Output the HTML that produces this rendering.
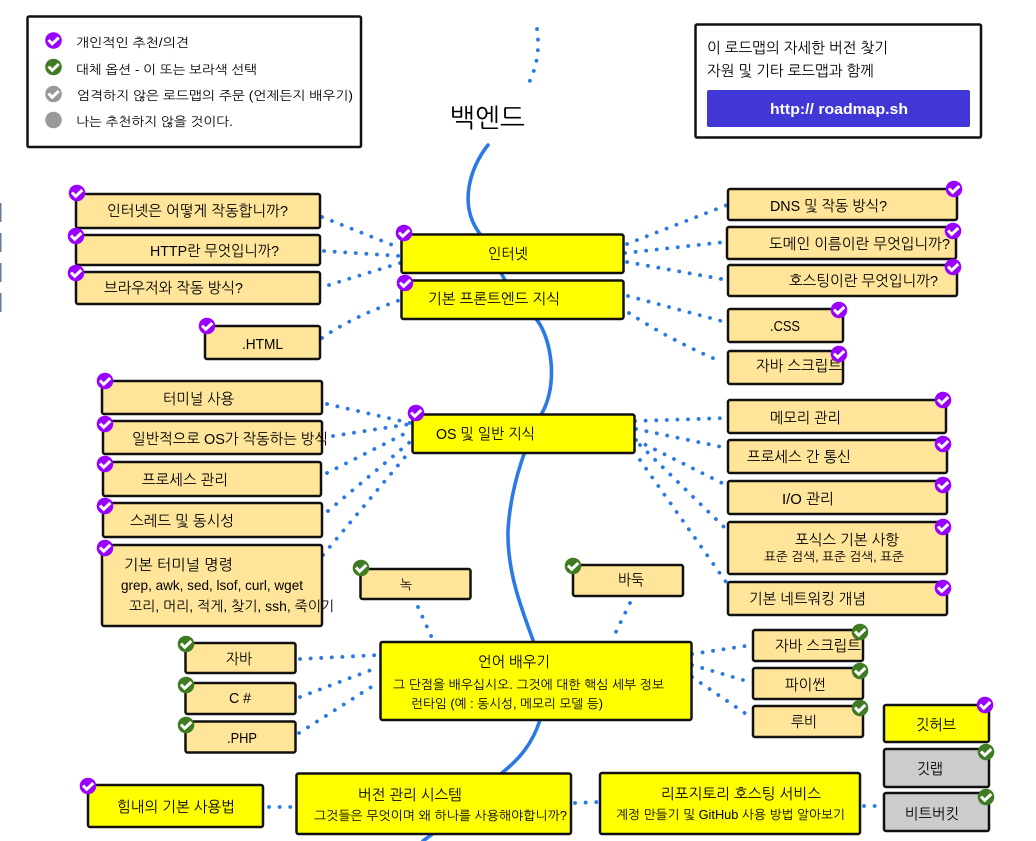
<!DOCTYPE html>
<html lang="ko"><head><meta charset="utf-8"><title>백엔드</title>
<style>
html,body{margin:0;padding:0;background:#fff;width:1036px;height:841px;overflow:hidden}
svg{display:block}
text{font-family:"Liberation Sans","NanumGothic","Noto Sans CJK KR",sans-serif;font-size:15px;fill:#000}
.s{font-size:12.5px}
.b{fill:#ffe599;stroke:#111;stroke-width:2.5}
.y{fill:#ff0;stroke:#111;stroke-width:2.5}
.g{fill:#ccc;stroke:#111;stroke-width:2.5}
.w{fill:#fff;stroke:#111;stroke-width:2.5}
.d{fill:none;stroke:#2a79e4;stroke-width:3.8;stroke-linecap:round;stroke-dasharray:0.1 10.5}
.c{fill:none;stroke:#2a79e4;stroke-width:3.6;stroke-linecap:round}
</style></head><body>
<svg width="1036" height="841" viewBox="0 0 1036 841" xmlns="http://www.w3.org/2000/svg">
<defs>
<g id="p"><circle r="8.3" fill="#9900ff"/><polyline points="-5,-0.5 -1.3,3.3 5.3,-3" fill="none" stroke="#fff" stroke-width="3"/></g>
<g id="n"><circle r="8.3" fill="#3f7b23"/><polyline points="-5,-0.5 -1.3,3.3 5.3,-3" fill="none" stroke="#fff" stroke-width="3"/></g>
<g id="h"><circle r="8.3" fill="#999"/><polyline points="-5,-0.5 -1.3,3.3 5.3,-3" fill="none" stroke="#fff" stroke-width="3"/></g>
</defs>

<g fill="#6b7a99"><rect x="0" y="203" width="1.5" height="19"/><rect x="0" y="233" width="1.5" height="19"/><rect x="0" y="263" width="1.5" height="19"/><rect x="0" y="293" width="1.5" height="19"/></g>

<path class="c" d="M488,145 C470,168 458,205 480,234 C495,258 510,300 537,320 C552,340 558,385 542,413 C530,435 511,480 508,530 C507,570 520,605 533,640 C542,665 548,690 540,720 C532,745 518,760 503,772 C480,795 445,825 423,841"/>
<path class="d" d="M537,29 C540,50 537,70 525,90"/>

<g>
<path class="d" d="M322,217 L400,248"/><path class="d" d="M324,251 L400,256"/><path class="d" d="M329,285 L400,263"/><path class="d" d="M322,338 Q350,318 400,300"/>
<path class="d" d="M627,244 L727,205"/><path class="d" d="M625,253 L725,242"/><path class="d" d="M627,262 L727,280"/><path class="d" d="M628,296 L725,322"/><path class="d" d="M629,313 Q670,340 722,362"/>
<path class="d" d="M327,404 L410,423"/><path class="d" d="M333,436 L410,424"/><path class="d" d="M327,473 L410,431"/><path class="d" d="M328,511 L410,442"/><path class="d" d="M323,555 L405,457"/>
<path class="d" d="M635,421 L727,418"/><path class="d" d="M636,429 L722,447"/><path class="d" d="M636,440 L722,483"/><path class="d" d="M640,445 L727,530"/><path class="d" d="M640,460 L726,582"/>
<path class="d" d="M418,607 L432,638"/><path class="d" d="M630,603 L612,640"/>
<path class="d" d="M300,659 L379,655"/><path class="d" d="M300,697 L379,667"/><path class="d" d="M299,733 L379,682"/>
<path class="d" d="M692,654 L752,645"/><path class="d" d="M692,665 L750,682"/><path class="d" d="M692,677 L752,718"/>
<path class="d" d="M269,807 L295,807"/><path class="d" d="M575,803 L598,802"/><path class="d" d="M864,806 L888,806"/>
</g>

<rect class="w" x="27.5" y="16.5" width="333.5" height="130.5" rx="1.5"/>
<rect class="w" x="695.5" y="24.5" width="285.5" height="113" rx="1.5"/>
<rect x="707" y="90" width="263" height="37" rx="2" fill="#4136d6"/>

<rect class="b" x="76" y="194" width="244" height="34" rx="2"/>
<rect class="b" x="76" y="235" width="244" height="30" rx="2"/>
<rect class="b" x="76" y="272" width="244" height="32" rx="2"/>
<rect class="b" x="205" y="326" width="115" height="33" rx="2"/>
<rect class="b" x="102" y="381" width="220" height="33" rx="2"/>
<rect class="b" x="103" y="421" width="219" height="33" rx="2"/>
<rect class="b" x="103" y="462" width="218" height="34" rx="2"/>
<rect class="b" x="103" y="503" width="219" height="34" rx="2"/>
<rect class="b" x="102" y="545" width="220" height="81" rx="2"/>
<rect class="y" x="401.500" y="234.500" width="222" height="38.500" rx="2"/>
<rect class="y" x="401.500" y="280.500" width="222" height="38.500" rx="2"/>
<rect class="y" x="412.500" y="414.500" width="222" height="38.500" rx="2"/>
<rect class="b" x="728" y="189" width="229" height="31" rx="2"/>
<rect class="b" x="727" y="227" width="229" height="32" rx="2"/>
<rect class="b" x="728" y="265" width="229" height="31" rx="2"/>
<rect class="b" x="728" y="309" width="115" height="33" rx="2"/>
<rect class="b" x="728" y="351" width="115" height="33" rx="2"/>
<rect class="b" x="728" y="400" width="218" height="33" rx="2"/>
<rect class="b" x="728" y="440" width="219" height="33" rx="2"/>
<rect class="b" x="728" y="481" width="219" height="33" rx="2"/>
<rect class="b" x="728" y="522" width="219" height="52" rx="2"/>
<rect class="b" x="728" y="582" width="219" height="33" rx="2"/>
<rect class="b" x="360.500" y="569" width="110" height="30" rx="2"/>
<rect class="b" x="573" y="565" width="110" height="31" rx="2"/>
<rect class="y" x="380.500" y="642" width="311" height="78" rx="2"/>
<rect class="b" x="185.500" y="643" width="110" height="30" rx="2"/>
<rect class="b" x="185.500" y="683" width="110" height="31" rx="2"/>
<rect class="b" x="185.500" y="721.500" width="110" height="31" rx="2"/>
<rect class="y" x="88" y="785" width="175" height="42" rx="2"/>
<rect class="y" x="296.500" y="773.500" width="274.500" height="60.500" rx="2"/>
<rect class="y" x="600" y="773" width="260" height="61" rx="2"/>
<rect class="y" x="884" y="705" width="105" height="37" rx="2"/>
<rect class="g" x="884" y="749" width="105" height="38" rx="2"/>
<rect class="g" x="884" y="793" width="105" height="38" rx="2"/>
<rect class="b" x="753" y="630" width="110" height="31" rx="2"/>
<rect class="b" x="753" y="668" width="110" height="31" rx="2"/>
<rect class="b" x="753" y="706" width="110" height="31" rx="2"/>

<text class="s" x="76" y="47" textLength="113" lengthAdjust="spacingAndGlyphs">개인적인 추천/의견</text>
<text class="s" x="76" y="74" textLength="181" lengthAdjust="spacingAndGlyphs">대체 옵션 - 이 또는 보라색 선택</text>
<text class="s" x="77" y="100" textLength="276" lengthAdjust="spacingAndGlyphs">엄격하지 않은 로드맵의 주문 (언제든지 배우기)</text>
<text class="s" x="76" y="126" textLength="157" lengthAdjust="spacingAndGlyphs">나는 추천하지 않을 것이다.</text>
<text x="450" y="127" style="font-size:26px" textLength="75" lengthAdjust="spacingAndGlyphs">백엔드</text>
<text x="707" y="53" textLength="181" lengthAdjust="spacingAndGlyphs">이 로드맵의 자세한 버전 찾기</text>
<text x="707" y="76" textLength="167" lengthAdjust="spacingAndGlyphs">자원 및 기타 로드맵과 함께</text>
<text x="770" y="114" style="fill:#fff;font-weight:bold" textLength="138" lengthAdjust="spacingAndGlyphs">http:// roadmap.sh</text>

<text x="107" y="216" textLength="181" lengthAdjust="spacingAndGlyphs">인터넷은 어떻게 작동합니까?</text>
<text x="150" y="256" textLength="129" lengthAdjust="spacingAndGlyphs">HTTP란 무엇입니까?</text>
<text x="104" y="293" textLength="139" lengthAdjust="spacingAndGlyphs">브라우저와 작동 방식?</text>
<text x="242" y="349" textLength="41" lengthAdjust="spacingAndGlyphs">.HTML</text>
<text x="163" y="404" textLength="71" lengthAdjust="spacingAndGlyphs">터미널 사용</text>
<text x="132" y="444" textLength="196" lengthAdjust="spacingAndGlyphs">일반적으로 OS가 작동하는 방식</text>
<text x="142" y="485" textLength="86" lengthAdjust="spacingAndGlyphs">프로세스 관리</text>
<text x="130" y="526" textLength="104" lengthAdjust="spacingAndGlyphs">스레드 및 동시성</text>
<text x="124" y="570" textLength="109" lengthAdjust="spacingAndGlyphs">기본 터미널 명령</text>
<text x="121" y="590" style="font-size:14px" textLength="182" lengthAdjust="spacingAndGlyphs">grep, awk, sed, lsof, curl, wget</text>
<text x="129" y="611" style="font-size:14px" textLength="205" lengthAdjust="spacingAndGlyphs">꼬리, 머리, 적게, 찾기, ssh, 죽이기</text>
<text x="488" y="259" textLength="40" lengthAdjust="spacingAndGlyphs">인터넷</text>
<text x="428" y="304" textLength="132" lengthAdjust="spacingAndGlyphs">기본 프론트엔드 지식</text>
<text x="436" y="439" textLength="99" lengthAdjust="spacingAndGlyphs">OS 및 일반 지식</text>
<text x="770" y="211" textLength="117" lengthAdjust="spacingAndGlyphs">DNS 및 작동 방식?</text>
<text x="769" y="249" textLength="181" lengthAdjust="spacingAndGlyphs">도메인 이름이란 무엇입니까?</text>
<text x="789" y="286" textLength="149" lengthAdjust="spacingAndGlyphs">호스팅이란 무엇입니까?</text>
<text x="770" y="331" textLength="30" lengthAdjust="spacingAndGlyphs">.CSS</text>
<text x="756" y="371" textLength="86" lengthAdjust="spacingAndGlyphs">자바 스크립트</text>
<text x="770" y="423" textLength="71" lengthAdjust="spacingAndGlyphs">메모리 관리</text>
<text x="747" y="462" textLength="104" lengthAdjust="spacingAndGlyphs">프로세스 간 통신</text>
<text x="782" y="504" textLength="52" lengthAdjust="spacingAndGlyphs">I/O 관리</text>
<text x="795" y="545" textLength="104" lengthAdjust="spacingAndGlyphs">포식스 기본 사항</text>
<text class="s" x="764" y="561" textLength="140" lengthAdjust="spacingAndGlyphs">표준 검색, 표준 검색, 표준</text>
<text x="749" y="604" textLength="117" lengthAdjust="spacingAndGlyphs">기본 네트워킹 개념</text>
<text x="400" y="589" style="font-size:13px" textLength="12" lengthAdjust="spacingAndGlyphs">녹</text>
<text x="618" y="585" textLength="26" lengthAdjust="spacingAndGlyphs">바둑</text>
<text x="478" y="667" textLength="72" lengthAdjust="spacingAndGlyphs">언어 배우기</text>
<text class="s" x="393" y="689" textLength="271" lengthAdjust="spacingAndGlyphs">그 단점을 배우십시오. 그것에 대한 핵심 세부 정보</text>
<text class="s" x="411" y="708" textLength="192" lengthAdjust="spacingAndGlyphs">런타임 (예 : 동시성, 메모리 모델 등)</text>
<text x="226" y="664" textLength="26" lengthAdjust="spacingAndGlyphs">자바</text>
<text x="229" y="703" textLength="22" lengthAdjust="spacingAndGlyphs">C #</text>
<text x="227" y="743" textLength="30" lengthAdjust="spacingAndGlyphs">.PHP</text>
<text x="117" y="812" textLength="118" lengthAdjust="spacingAndGlyphs">힘내의 기본 사용법</text>
<text x="358" y="800" textLength="104" lengthAdjust="spacingAndGlyphs">버전 관리 시스템</text>
<text class="s" x="314" y="820" textLength="253" lengthAdjust="spacingAndGlyphs">그것들은 무엇이며 왜 하나를 사용해야합니까?</text>
<text x="661" y="799" textLength="160" lengthAdjust="spacingAndGlyphs">리포지토리 호스팅 서비스</text>
<text class="s" x="616" y="819" textLength="229" lengthAdjust="spacingAndGlyphs">계정 만들기 및 GitHub 사용 방법 알아보기</text>
<text x="775" y="651" textLength="86" lengthAdjust="spacingAndGlyphs">자바 스크립트</text>
<text x="785" y="690" textLength="41" lengthAdjust="spacingAndGlyphs">파이썬</text>
<text x="791" y="727" textLength="26" lengthAdjust="spacingAndGlyphs">루비</text>
<text x="916" y="730" textLength="40" lengthAdjust="spacingAndGlyphs">깃허브</text>
<text x="917" y="774" textLength="26" lengthAdjust="spacingAndGlyphs">깃랩</text>
<text x="905" y="819" textLength="54" lengthAdjust="spacingAndGlyphs">비트버킷</text>

<use href="#p" x="53.500" y="40.500"/><use href="#n" x="53.500" y="67"/><use href="#h" x="53.500" y="94"/><circle cx="53.500" cy="120" r="8.300" fill="#999"/>
<use href="#p" x="77" y="193"/><use href="#p" x="76" y="236"/><use href="#p" x="76" y="273"/><use href="#p" x="207" y="326"/>
<use href="#p" x="105" y="381"/><use href="#p" x="105" y="424"/><use href="#p" x="105" y="464"/><use href="#p" x="105" y="506"/><use href="#p" x="105" y="548"/>
<use href="#p" x="404" y="233"/><use href="#p" x="405" y="283"/><use href="#p" x="416" y="413"/>
<use href="#p" x="954" y="189"/><use href="#p" x="953" y="231"/><use href="#p" x="953" y="267"/><use href="#p" x="839" y="310"/><use href="#p" x="839" y="354"/>
<use href="#p" x="943" y="400"/><use href="#p" x="943" y="444"/><use href="#p" x="943" y="485"/><use href="#p" x="943" y="527"/><use href="#p" x="943" y="588"/>
<use href="#n" x="361" y="568"/><use href="#n" x="573" y="566"/><use href="#n" x="186" y="644"/><use href="#n" x="186" y="685"/><use href="#n" x="186" y="725"/>
<use href="#n" x="860" y="632"/><use href="#n" x="860" y="671"/><use href="#n" x="860" y="708"/><use href="#n" x="986" y="752"/><use href="#n" x="986" y="797"/>
<use href="#p" x="985" y="705"/><use href="#p" x="88" y="786"/>
</svg>
</body></html>
